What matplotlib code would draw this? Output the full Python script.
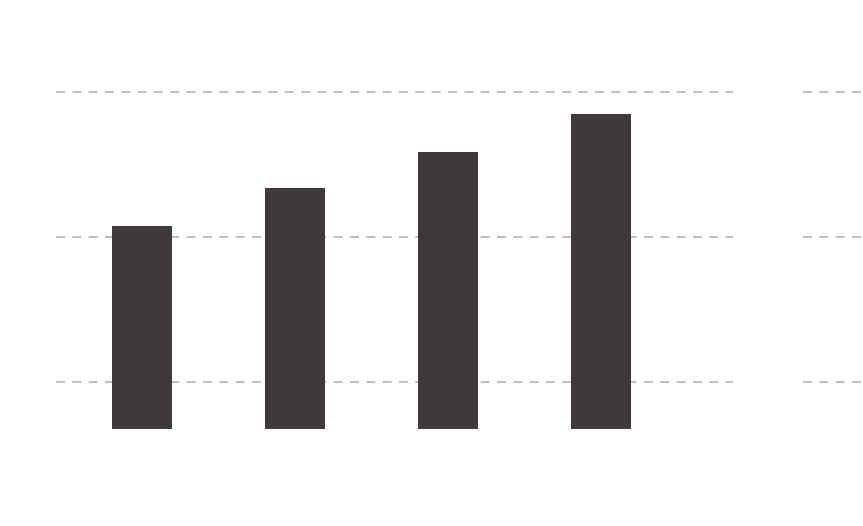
import matplotlib
matplotlib.use("Agg")
from matplotlib import pyplot as plt

# values (gridlines at 100 / 200 / 300)
categories = ["A", "B", "C", "D"]
values = [207.8, 233.8, 258.6, 284.6]
grid_values = [100, 200, 300]

BAR_COLOR = "#3f3a39"
GRID_COLOR = "#bfbfbf"

fig = plt.figure(figsize=(8.63, 5.26), dpi=100)
fig.patch.set_facecolor("white")

ymin, ymax = 67.2, 321.7

ax = fig.add_axes([56 / 863, 96.6 / 526, 677 / 863, 369 / 526])
ax_r = fig.add_axes([803 / 863, 96.6 / 526, 60 / 863, 369 / 526])

x = list(range(len(categories)))
ax.bar(x, values, width=0.392, color=BAR_COLOR, zorder=3)
ax.set_xlim(-0.562, 3.863)
ax_r.set_xlim(0, 1)

for a in (ax, ax_r):
    a.set_ylim(ymin, ymax)
    a.set_yticks(grid_values)
    a.yaxis.grid(True, color=GRID_COLOR, linewidth=1.4,
                 linestyle=(0, (4.6, 3.8)), zorder=0)
    a.set_axisbelow(True)
    a.tick_params(left=False, bottom=False, labelleft=False, labelbottom=False)
    for s in a.spines.values():
        s.set_visible(False)
    a.set_facecolor("none")

fig.savefig("out.png", dpi=100)
